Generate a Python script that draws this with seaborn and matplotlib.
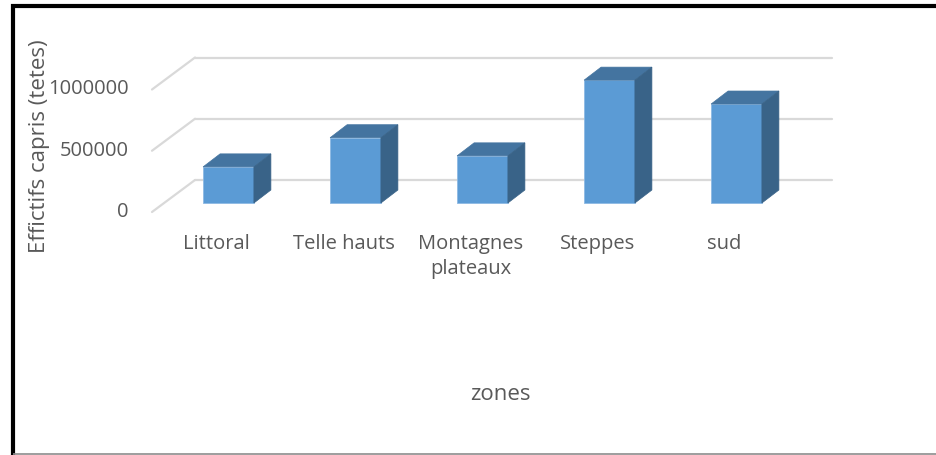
import matplotlib
matplotlib.use("Agg")
import matplotlib.pyplot as plt
from matplotlib.patches import Polygon
from matplotlib.lines import Line2D
import seaborn as sns
import pandas as pd

# Goat herd size per zone
zones = ["Littoral", "Telle hauts", "Montagnes\nplateaux", "Steppes", "sud"]
effectifs = [295000, 533000, 385000, 1003000, 808000]
yticks = [0, 500000, 1000000]
ytick_labels = ["0", "500000", "1000000"]

sns.set_theme(style="white")
plt.rcParams["font.family"] = ["Open Sans", "DejaVu Sans"]

W, H = 936, 455
fig = plt.figure(figsize=(W / 100, H / 100), dpi=100)

# axes laid out in pixels: category spacing and value scale of the front bar plane
PX_CAT = 127.0
PX_VAL = 122.5 / 1e6
left_px, base_px, top_px = 165, 203, 56
ax = fig.add_axes([left_px / W, (H - base_px) / H,
                   5 * PX_CAT / W, (base_px - top_px) / H])


def dx(px):
    return px / PX_CAT


def dy(px):
    return px / PX_VAL


df = pd.DataFrame({"zone": zones, "effectif": effectifs})
sns.barplot(data=df, x="zone", y="effectif", ax=ax, color="#5B9BD5",
            saturation=1, width=0.40, edgecolor="#8DB9E4", linewidth=0.6,
            zorder=3)
ax.axis("off")
ax.set_xlim(-0.5, 4.5)
ax.set_ylim(0, (base_px - top_px) / PX_VAL)

# depth of each box
DX, DY = dx(17), dy(13)
top_col, side_col = "#4474A0", "#396388"
for p in ax.patches:
    x0, w, h = p.get_x(), p.get_width(), p.get_height()
    top = Polygon([(x0, h), (x0 + w, h), (x0 + w + DX, h + DY), (x0 + DX, h + DY)],
                  closed=True, facecolor=top_col, edgecolor=top_col, lw=0.5,
                  zorder=3, clip_on=False)
    side = Polygon([(x0 + w, 0), (x0 + w + DX, DY), (x0 + w + DX, h + DY), (x0 + w, h)],
                   closed=True, facecolor=side_col, edgecolor=side_col, lw=0.5,
                   zorder=3, clip_on=False)
    ax.add_patch(top)
    ax.add_patch(side)
    p.set_clip_on(False)

# gridlines: back wall and the diagonal side wall
back_dx, back_dy = dx(31), dy(23)
front_dx, front_dy = dx(-12), dy(-9)
x_front = -0.5 + dx(152 - left_px)
x_back = -0.5 + dx(195 - left_px)
x_end = -0.5 + dx(832 - left_px)
grid_col = "#D9D9D9"
for v in yticks:
    ax.add_line(Line2D([x_back, x_end], [v + back_dy, v + back_dy], color=grid_col,
                       lw=1.6, zorder=1, clip_on=False))
    ax.add_line(Line2D([x_front, x_back], [v + front_dy, v + back_dy], color=grid_col,
                       lw=1.6, zorder=1, clip_on=False))

text_col = "#595959"
x_lab = -0.5 + dx(129 - left_px)
for v, lab in zip(yticks, ytick_labels):
    ax.text(x_lab, v + front_dy, lab, ha="right", va="center", fontsize=14.5,
            color=text_col, clip_on=False)

for i, z in enumerate(zones):
    ax.text(i + front_dx, dy(-(234 - base_px)), z, ha="center", va="top",
            fontsize=14.5, color=text_col, linespacing=1.32, clip_on=False)

fig.text(40 / W, 1 - 146 / H, "Effictifs capris (tetes)", rotation=90,
         ha="center", va="center", fontsize=16, color=text_col)
fig.text(500 / W, 1 - 395 / H, "zones", ha="center", va="center",
         fontsize=16, color=text_col)

# outer frame of the chart
fig.add_artist(Line2D([11 / W, 1], [1 - 6 / H, 1 - 6 / H], color="black",
                      lw=3.0, solid_capstyle="butt", transform=fig.transFigure))
fig.add_artist(Line2D([13 / W, 13 / W], [0, 1 - 4 / H], color="black",
                      lw=3.0, solid_capstyle="butt", transform=fig.transFigure))
fig.add_artist(Line2D([13 / W, 1], [1 - 454 / H, 1 - 454 / H], color="#8C8C8C",
                      lw=1.2, solid_capstyle="butt", transform=fig.transFigure))

fig.savefig("out.png", dpi=100, facecolor="white")
